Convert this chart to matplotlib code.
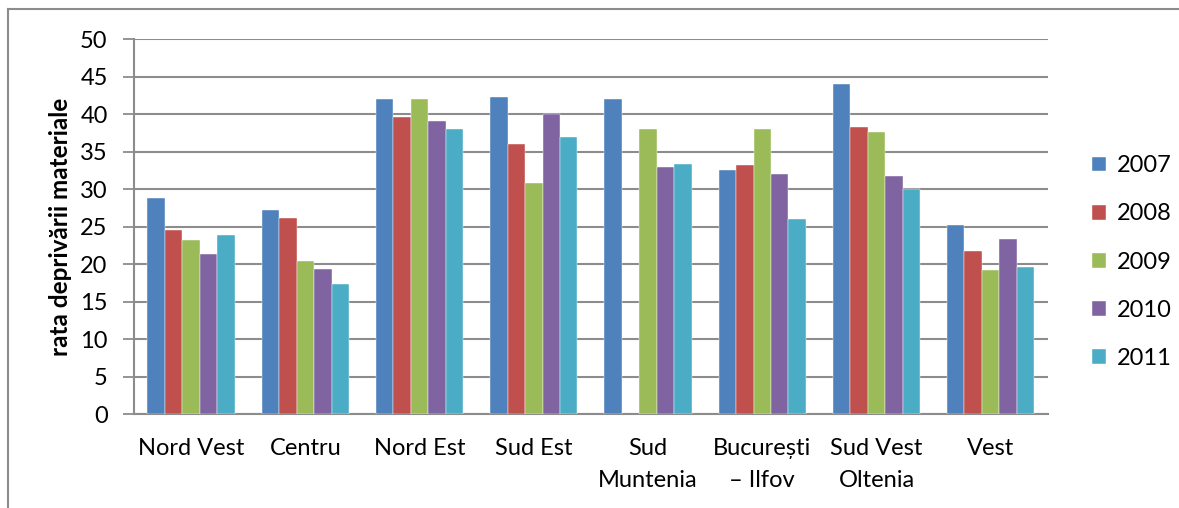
import numpy as np
import matplotlib
matplotlib.use('Agg')
from matplotlib import pyplot as plt
from matplotlib.lines import Line2D

# Data.
regions=['Nord Vest','Centru','Nord Est','Sud Est','Sud\nMuntenia',
 'București\n– Ilfov','Sud Vest\nOltenia','Vest']
years=['2007','2008','2009','2010','2011']
v2007=[28.8,27.2,42.0,42.3,42.0,32.6,44.1,25.2]
v2008=[24.6,26.2,39.7,36.0,np.nan,33.3,38.3,21.8]
v2009=[23.3,20.5,42.0,30.8,38.1,38.1,37.6,19.3]
v2010=[21.4,19.4,39.1,40.0,33.0,32.0,31.8,23.4]
v2011=[23.9,17.4,38.1,37.0,33.4,26.0,30.1,19.6]
series=[v2007,v2008,v2009,v2010,v2011]
colors=['#4F81BD','#C0504D','#9BBB59','#8064A2','#4BACC6']

plt.rcParams['font.family']=['Lato','DejaVu Sans']
grid_col='#8C8C8C'

# Set up figure.
fig=plt.figure(figsize=(11.79,5.08),dpi=100)
ax=fig.add_axes([0.1137,0.1844,0.775,0.7382])

# Plot bars.
x=np.arange(len(regions))
w=0.153
for i,(vals,col,yr) in enumerate(zip(series,colors,years)):
  ax.bar(x+(i-2)*w,vals,width=w,color=col,label=yr,zorder=3,
   edgecolor='white',linewidth=0.3)

# Axes styling.
ax.set_xlim(-0.5,7.5)
ax.set_ylim(0,50)
ax.set_yticks(np.arange(0,51,5))
ax.set_xticks(x)
ax.set_xticklabels(regions,fontsize=17,linespacing=1.68)
ax.tick_params(axis='x',length=0,pad=17)
ax.tick_params(axis='y',length=8,width=1.3,color=grid_col,labelsize=17,pad=11)
ax.yaxis.grid(True,color=grid_col,linewidth=1.5,zorder=0)
ax.set_axisbelow(True)
for s in ['top','right']:
  ax.spines[s].set_visible(False)
for s in ['left','bottom']:
  ax.spines[s].set_color(grid_col)
  ax.spines[s].set_linewidth(1.5)
ax.set_ylabel('rata deprivării materiale',fontsize=17.5,fontweight='bold',labelpad=6)

# Legend.
ax.legend(loc='center left',bbox_to_anchor=(0.908,0.484),bbox_transform=fig.transFigure,
 frameon=False,fontsize=17,handlelength=0.6,handleheight=0.6,handletextpad=0.45,
 labelspacing=1.15)

# Outer chart frame (top and left edges visible).
fig.add_artist(Line2D([8/1179,1.0],[1-9/508,1-9/508],color=grid_col,linewidth=1.5))
fig.add_artist(Line2D([8/1179,8/1179],[0,1-9/508],color=grid_col,linewidth=1.5))

fig.savefig('out.png',dpi=100)
